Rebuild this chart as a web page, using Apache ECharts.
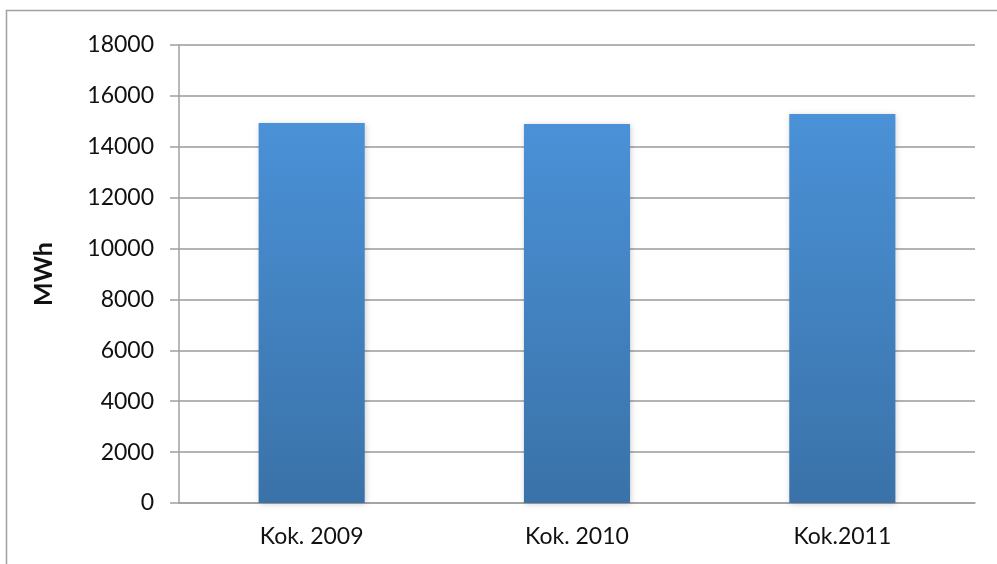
<!DOCTYPE html>
<html>
<head>
<meta charset="utf-8">
<script src="https://cdn.jsdelivr.net/npm/echarts@6/dist/echarts.min.js"></script>
<style>
html,body{margin:0;padding:0;background:#fff;}
#chart{width:997px;height:564px;}
</style>
</head>
<body>
<div id="chart"></div>
<script>
const categories = ['Kok. 2009', 'Kok. 2010', 'Kok.2011'];
const values = [14930, 14900, 15290];
const yTicks = [0, 2000, 4000, 6000, 8000, 10000, 12000, 14000, 16000, 18000];
const yAxisName = 'MWh';

const chart = echarts.init(document.getElementById('chart'), null, {renderer: 'canvas'});
const fontFamily = 'Lato, "Open Sans", sans-serif';
chart.setOption({
  animation: false,
  backgroundColor: '#fff',
  graphic: [{
    type: 'rect',
    shape: {x: 6.5, y: 10.5, width: 1100, height: 700},
    style: {fill: 'none', stroke: '#a0a0a0', lineWidth: 1.5},
    silent: true
  }],
  grid: {left: 179, right: 22, top: 45, bottom: 61, containLabel: false},
  xAxis: {
    type: 'category',
    data: categories,
    axisLine: {show: true, lineStyle: {color: '#a0a0a0', width: 1.5}},
    axisTick: {show: false},
    axisLabel: {color: '#111', fontSize: 23, fontFamily: fontFamily, margin: 22}
  },
  yAxis: {
    type: 'value',
    min: yTicks[0],
    max: yTicks[yTicks.length - 1],
    interval: 2000,
    name: yAxisName,
    nameLocation: 'middle',
    nameRotate: 90,
    nameGap: 123,
    nameTextStyle: {fontSize: 25, fontWeight: 'bold', color: '#111', fontFamily: fontFamily},
    axisLine: {show: true, lineStyle: {color: '#a0a0a0', width: 1.5}},
    axisTick: {show: true, inside: false, length: 9, lineStyle: {color: '#a0a0a0', width: 1.5}},
    axisLabel: {color: '#111', fontSize: 23, fontFamily: fontFamily, margin: 25, formatter: v => String(v)},
    splitLine: {show: true, lineStyle: {color: '#9a9a9a', width: 1.5}}
  },
  series: [{
    type: 'bar',
    data: values,
    barWidth: '40%',
    itemStyle: {
      color: new echarts.graphic.LinearGradient(0, 0, 0, 1, [
        {offset: 0, color: '#4a91d7'},
        {offset: 1, color: '#3a72a8'}
      ]),
      shadowBlur: 6,
      shadowColor: 'rgba(0,0,0,0.18)',
      shadowOffsetX: 1,
      shadowOffsetY: 1
    }
  }]
});
</script>
</body>
</html>
